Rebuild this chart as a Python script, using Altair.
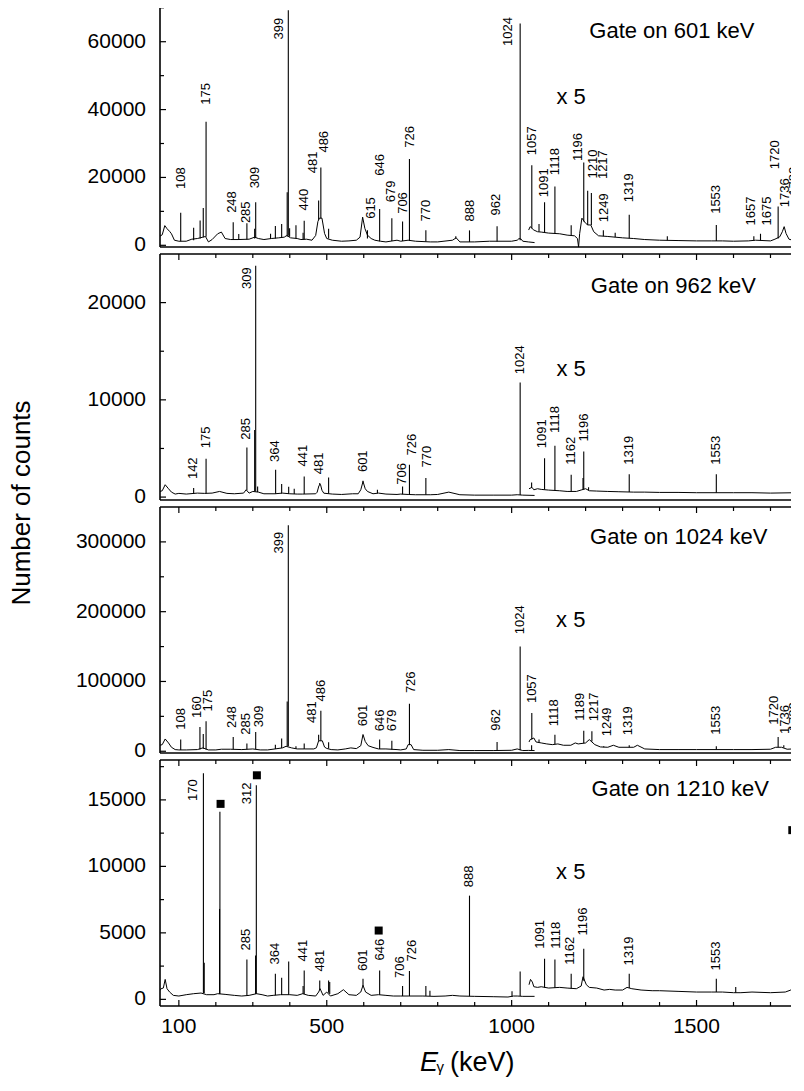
import altair as alt
import pandas as pd

# ---------------- shared ----------------
X_DOMAIN = [49, 1769]
X_LABELS = [100, 500, 1000, 1500]
X_TICKS_MAJOR = [100, 500, 1000, 1500]
X_TICKS_MINOR = [200, 300, 400, 600, 700, 800, 900, 1100, 1200, 1300, 1400, 1600, 1700]
W, H = 636, 246
FONT = "Liberation Sans"

# ---------------- panel 1 : gate on 601 keV ----------------
P1_LOW_E = [49, 55, 62, 68, 75, 80, 88, 100, 120, 135, 150, 165, 172, 180, 190, 205, 215, 225, 240, 260, 290, 305, 315, 330, 350, 370, 385, 392, 402, 420, 430, 445, 460, 470, 476, 480, 487, 494, 500, 515, 540, 560, 580, 590, 597, 603, 610, 620, 630, 645, 660, 690, 700, 720, 740, 780, 800, 840, 850, 860, 900, 940, 1000, 1015, 1020, 1026, 1030, 1045, 1062]
P1_LOW_C = [2700, 3100, 5800, 4900, 4100, 3400, 1500, 1200, 1200, 1800, 2000, 2400, 2600, 1000, 1700, 3400, 3900, 2000, 1700, 1700, 1800, 2400, 2000, 1700, 2000, 2200, 2400, 2900, 2200, 2000, 1700, 1800, 1500, 2900, 7000, 8000, 8000, 3500, 2000, 1500, 1200, 1300, 1500, 2400, 8300, 5000, 3000, 2000, 1500, 1200, 1000, 1500, 1200, 1500, 1200, 1000, 1000, 1500, 2200, 1000, 1000, 1200, 1200, 1500, 2000, 1800, 1200, 1000, 800]
P1_X5_E = [1046, 1050, 1060, 1070, 1080, 1100, 1130, 1150, 1170, 1178, 1181, 1184, 1190, 1200, 1206, 1214, 1222, 1235, 1260, 1280, 1300, 1330, 1360, 1400, 1450, 1500, 1540, 1570, 1600, 1640, 1660, 1700, 1712, 1725, 1732, 1737, 1742, 1750, 1760, 1769]
P1_X5_C = [4500, 5500, 4500, 4000, 3900, 3600, 3400, 3000, 2800, 2000, -500, 3500, 8000, 6500, 6000, 6000, 4000, 2800, 2600, 2400, 2200, 2000, 1700, 1500, 1400, 1300, 1300, 1300, 1200, 1300, 1500, 1300, 1800, 2500, 4000, 5500, 3500, 1800, 1500, 2000]
P1_PK_E = [105, 140, 157.5, 166, 173.6, 247, 262, 284, 305, 307.8, 348, 361, 378, 393, 396, 399.5, 416.7, 436, 439, 478, 484, 505, 610, 643, 676, 705, 723.6, 768, 849, 886, 960.6, 1023,
           1054.5, 1074, 1089, 1117, 1161, 1195, 1205.6, 1215.6, 1248, 1280, 1318, 1421, 1553.5, 1655, 1673, 1720.7]
P1_PK_TOP = [9600, 5200, 7300, 11000, 36400, 6800, 3300, 6500, 4900, 12700, 3400, 5700, 6300, 15600, 69300, 5000, 5900, 3700, 7200, 13200, 22900, 4900, 4400, 10700, 8000, 7000, 25400, 4400, 2700, 4400, 5600, 65400,
             23600, 6300, 12700, 17300, 5900, 24400, 16100, 15400, 4400, 3700, 9000, 2700, 6000, 2700, 3400, 11400]
P1_PK_BASE = [1200, 1500, 2000, 2400, 2500, 1700, 1700, 1700, 2000, 2200, 1900, 2000, 2200, 2600, 2800, 2500, 2000, 1700, 1700, 7500, 8000, 2000, 2000, 1200, 1300, 1300, 1300, 1100, 2000, 1000, 1100, 1500,
              5000, 4000, 3800, 3400, 2900, 7000, 6000, 6000, 2700, 2400, 2100, 1500, 1300, 1400, 1400, 2000]
P1_LAB = ["108", "175", "248", "285", "309", "399", "440", "481", "486", "615", "646", "679", "706", "726", "770", "888", "962", "1024", "1057", "1091", "1118", "1196", "1210", "1217", "1249", "1319", "1553", "1657", "1675", "1720", "1736", "1782"]
P1_LAB_E = [106.5, 173.6, 244, 282.6, 305, 370, 439, 461.5, 492.6, 620.7, 644.8, 674, 705, 725, 768, 888, 958, 989, 1056, 1087, 1117, 1180, 1219, 1248, 1251, 1318, 1553, 1646.6, 1689.6, 1712, 1740, 1764]
P1_LAB_Y = [16600, 41460, 9560, 6540, 16780, 60680, 10240, 21270, 27320, 7800, 20490, 12680, 9270, 28780, 7020, 7020, 8780, 58730, 26540, 14150, 20680, 24880, 19710, 19510, 6830, 12680, 9270, 5850, 5850, 22440, 11220, 14630]
P1_Y_DOMAIN = [-500, 72000]
P1_Y_MAJOR = [0, 20000, 40000, 60000]
P1_Y_MINOR = [10000, 30000, 50000, 70000]

# ---------------- panel 2 : gate on 962 keV ----------------
P2_LOW_E = [49, 55, 63, 72, 80, 90, 100, 120, 150, 170, 190, 210, 230, 250, 275, 282, 290, 300, 315, 330, 360, 380, 400, 420, 435, 470, 474, 479, 483, 487, 492, 515, 540, 570, 585, 592, 598, 604, 610, 625, 640, 660, 690, 700, 720, 740, 780, 800, 830, 860, 900, 950, 1000, 1015, 1030, 1062]
P2_LOW_C = [580, 650, 1270, 860, 510, 310, 380, 310, 410, 380, 410, 580, 380, 340, 410, 750, 410, 580, 510, 340, 340, 410, 340, 310, 310, 340, 500, 1200, 1300, 700, 400, 310, 270, 340, 340, 750, 1600, 860, 580, 340, 410, 310, 270, 310, 270, 240, 240, 270, 510, 240, 200, 200, 200, 240, 200, 170]
P2_X5_E = [1047, 1055, 1060, 1070, 1080, 1100, 1130, 1150, 1175, 1190, 1200, 1210, 1230, 1260, 1290, 1330, 1360, 1400, 1450, 1500, 1600, 1650, 1700, 1769]
P2_X5_C = [860, 1000, 750, 860, 790, 720, 650, 580, 580, 750, 860, 650, 620, 580, 550, 510, 510, 480, 480, 450, 450, 450, 410, 450]
P2_PK_E = [140, 173.6, 284, 305, 307.8, 313, 361.7, 378, 397, 412, 439, 481, 505, 598, 637, 705, 723.6, 768, 1023,
           1054, 1089, 1117, 1161, 1193, 1195, 1208, 1318, 1553.5]
P2_PK_TOP = [930, 3940, 5100, 6900, 23800, 1100, 2800, 1340, 1060, 860, 2120, 1440, 2020, 1680, 750, 1100, 3320, 1950, 11780,
             1500, 4000, 5270, 2290, 1950, 4690, 1000, 2360, 2360]
P2_PK_BASE = [340, 380, 700, 580, 580, 530, 340, 370, 340, 320, 310, 1250, 380, 1500, 400, 300, 270, 240, 220,
              950, 790, 680, 580, 750, 800, 700, 520, 450]
P2_LAB = ["142", "175", "285", "309", "364", "441", "481", "601", "706", "726", "770", "1024", "1091", "1118", "1162", "1196", "1319", "1553"]
P2_LAB_E = [139.5, 172.6, 282.6, 285, 361, 437, 479, 598, 703, 730, 770, 1022, 1081, 1117, 1161, 1195, 1318, 1553]
P2_LAB_Y = [1850, 5030, 5890, 21400, 3600, 3150, 2360, 2570, 1270, 4280, 3050, 12640, 5030, 6580, 3320, 5720, 3320, 3320]
P2_Y_DOMAIN = [-300, 25000]
P2_Y_MAJOR = [0, 10000, 20000]
P2_Y_MINOR = [5000, 15000]

# ---------------- panel 3 : gate on 1024 keV ----------------
P3_LOW_E = [49, 55, 63, 72, 80, 90, 100, 120, 150, 165, 180, 200, 215, 240, 270, 300, 320, 340, 360, 380, 390, 405, 420, 440, 465, 472, 478, 488, 494, 500, 512, 530, 550, 565, 580, 592, 598, 604, 612, 625, 640, 660, 690, 700, 715, 720, 728, 735, 760, 800, 830, 860, 900, 950, 1000, 1015, 1030, 1045, 1062]
P3_LOW_C = [8600, 9500, 17600, 11900, 5700, 2400, 1900, 1900, 2400, 4800, 1900, 1900, 2900, 2900, 2400, 3300, 1900, 1900, 3300, 4800, 7100, 4800, 3300, 3300, 3300, 5000, 15000, 15000, 6000, 4000, 2400, 1900, 3300, 4800, 3800, 8000, 24000, 14000, 8000, 5500, 3300, 3300, 2400, 1900, 3300, 9500, 9500, 2400, 1400, 1400, 2400, 1000, 1000, 1000, 1400, 3300, 1000, 1200, 1000]
P3_X5_E = [1047, 1050, 1060, 1066, 1080, 1095, 1110, 1125, 1140, 1160, 1172, 1180, 1200, 1210, 1225, 1240, 1260, 1275, 1290, 1330, 1340, 1360, 1400, 1450, 1500, 1600, 1650, 1700, 1714, 1730, 1745, 1760, 1769]
P3_X5_C = [13300, 16700, 19000, 13300, 11900, 10500, 9500, 10500, 8600, 8600, 11900, 10500, 11900, 16700, 9500, 6200, 5700, 8600, 5700, 5700, 8600, 3300, 2400, 2400, 2400, 2400, 2400, 2900, 5700, 5700, 2900, 3300, 4800]
P3_PK_E = [105, 157, 166, 173.6, 247, 284, 307.8, 361, 378, 393, 396, 416.7, 439, 478, 484, 505, 643, 676, 723.6, 960.6, 1023, 1054,
           1054.5, 1074, 1117, 1195, 1217, 1249, 1318, 1553.5, 1720.7, 1736]
P3_PK_TOP = [16700, 34800, 24800, 42900, 20500, 11000, 27600, 9500, 18100, 71400, 323800, 7100, 11000, 23800, 58100, 12900, 16700, 15200, 68100, 13300, 150000, 8600,
             54800, 16700, 23800, 29500, 28600, 7100, 8600, 7100, 20500, 8600]
P3_PK_BASE = [1900, 2400, 3500, 2400, 2900, 2700, 3300, 3300, 4800, 7100, 7100, 3600, 3300, 15000, 15000, 4000, 3300, 2400, 9500, 1000, 1400, 1100,
              17000, 12500, 10000, 11500, 14000, 5800, 5700, 2400, 5700, 5000]
P3_LAB = ["108", "160", "175", "248", "285", "309", "399", "481", "486", "601", "646", "679", "726", "962", "1024", "1057", "1118", "1189", "1217", "1249", "1319", "1553", "1720", "1736", "1782"]
P3_LAB_E = [106.5, 148, 180, 245, 281, 318, 370, 459.6, 484, 598, 645, 676, 727, 958, 1022, 1056, 1114, 1184, 1224, 1258, 1315, 1553, 1709, 1738, 1764]
P3_LAB_Y = [30950, 47600, 57140, 33300, 23800, 34300, 283300, 40500, 71400, 35700, 28600, 28600, 83300, 29500, 167600, 69000, 35700, 43800, 42900, 21400, 22900, 23800, 38100, 24800, 28600]
P3_Y_DOMAIN = [-2500, 350000]
P3_Y_MAJOR = [0, 100000, 200000, 300000]
P3_Y_MINOR = [50000, 150000, 250000]

# ---------------- panel 4 : gate on 1210 keV ----------------
P4_LOW_E = [49, 52, 58, 63, 68, 75, 85, 100, 120, 140, 160, 175, 195, 205, 225, 250, 270, 290, 310, 325, 340, 355, 375, 400, 420, 435, 450, 470, 478, 482, 490, 500, 510, 530, 545, 560, 580, 592, 598, 605, 620, 640, 660, 680, 700, 720, 760, 790, 820, 840, 860, 900, 950, 990, 1005, 1015, 1030, 1062]
P4_LOW_C = [675, 800, 850, 1500, 800, 550, 300, 250, 350, 425, 475, 350, 350, 425, 375, 300, 250, 300, 425, 350, 250, 300, 350, 350, 300, 425, 300, 250, 550, 800, 300, 550, 250, 425, 725, 350, 300, 550, 1050, 550, 300, 350, 300, 250, 250, 250, 250, 225, 250, 300, 250, 225, 200, 175, 250, 250, 225, 225]
P4_X5_E = [1047, 1051, 1056, 1060, 1070, 1080, 1100, 1130, 1150, 1175, 1188, 1193, 1202, 1210, 1230, 1250, 1265, 1280, 1300, 1312, 1325, 1350, 1380, 1400, 1450, 1500, 1540, 1570, 1600, 1620, 1650, 1700, 1740, 1755, 1762, 1769]
P4_X5_C = [1100, 1500, 1300, 950, 900, 950, 850, 900, 850, 800, 1000, 1700, 1100, 900, 850, 700, 750, 700, 700, 900, 800, 700, 650, 650, 600, 550, 550, 550, 500, 500, 550, 500, 550, 700, 900, 550]
P4_PK_E = [166.4, 168.6, 210, 211, 284, 307.5, 309.5, 361, 378, 397, 436, 439, 481, 505, 508, 598, 643, 705, 723.6, 768, 779, 886, 1001, 1023,
           1089, 1117, 1161, 1195, 1318, 1553.5, 1606, 1765, 1767]
P4_PK_TOP = [17000, 2750, 6800, 14100, 3000, 3300, 16100, 1925, 1625, 2850, 1000, 2175, 1425, 1425, 1300, 1550, 2175, 1000, 2125, 1000, 650, 7800, 600, 2100,
             3050, 3000, 1925, 3800, 1925, 1550, 925, 12050, 7400]
P4_PK_BASE = [450, 450, 400, 400, 300, 400, 400, 300, 320, 350, 400, 400, 700, 500, 400, 1000, 350, 250, 250, 250, 250, 240, 200, 250,
              900, 880, 820, 1400, 850, 550, 500, 800, 700]
P4_LAB = ["170", "285", "312", "364", "441", "481", "601", "646", "706", "726", "888", "1091", "1118", "1162", "1196", "1319", "1553"]
P4_LAB_E = [137.6, 282.6, 285, 358.7, 437, 482, 598, 645, 698, 730, 886, 1076, 1119, 1159, 1193, 1318, 1553]
P4_LAB_Y = [14925, 3675, 14675, 2625, 2850, 2100, 2125, 2925, 1600, 2850, 8425, 3800, 3800, 2600, 4800, 2550, 2175]
P4_SQ_E = [212.8, 311, 640.4, 1759]
P4_SQ_C = [14700, 16850, 5175, 12725]
P4_Y_DOMAIN = [-500, 18000]
P4_Y_MAJOR = [0, 5000, 10000, 15000]
P4_Y_MINOR = [2500, 7500, 12500, 17500]

GATES = ["Gate on 601 keV", "Gate on 962 keV", "Gate on 1024 keV", "Gate on 1210 keV"]
GATE_E = [1210, 1214, 1212, 1216]
GATE_Y = [61000, 20960, 297600, 15300]
X5_E = [1121, 1121, 1120, 1120]
X5_Y = [41760, 12500, 178600, 9050]

ONE = pd.DataFrame({"k": [0]})


def panel(i, low_e, low_c, hi_e, hi_c, pk_e, pk_t, pk_b, lab_t, lab_e, lab_y,
          ydom, ymaj, ymin, bottom=False):
    xs = alt.Scale(domain=X_DOMAIN, nice=False, zero=False)
    ys = alt.Scale(domain=ydom, nice=False, zero=False)

    def X(f):
        return alt.X(f, scale=xs, axis=None)

    def Y(f):
        return alt.Y(f, scale=ys, axis=None)

    spec = pd.DataFrame({
        "E": list(low_e) + list(hi_e),
        "C": list(low_c) + list(hi_c),
        "seg": ["low"] * len(low_e) + ["x5"] * len(hi_e),
    })

    line = alt.Chart(spec).mark_line(color="black", strokeWidth=1, clip=True).encode(
        x=X("E:Q"), y=Y("C:Q"), detail="seg:N")

    frame_l = alt.Chart(ONE).mark_rule(color="black", strokeWidth=1.6).encode(
        x=alt.value(0), y=alt.value(0), y2=alt.value(H))
    frame_t = alt.Chart(ONE).mark_rule(color="black", strokeWidth=1.6).encode(
        x=alt.value(0), x2=alt.value(W), y=alt.value(0))
    frame_b = alt.Chart(ONE).mark_rule(color="black", strokeWidth=1.6).encode(
        x=alt.value(0), x2=alt.value(W), y=alt.value(H))

    yt_maj = alt.Chart(pd.DataFrame({"v": ymaj})).mark_rule(color="black", strokeWidth=1.2).encode(
        y=Y("v:Q"), x=alt.value(0), x2=alt.value(6))
    yt_min = alt.Chart(pd.DataFrame({"v": ymin})).mark_rule(color="black", strokeWidth=1.2).encode(
        y=Y("v:Q"), x=alt.value(0), x2=alt.value(4))
    y_lab = alt.Chart(pd.DataFrame({"v": ymaj, "s": [str(v) for v in ymaj]})).mark_text(
        align="right", baseline="middle", fontSize=21, font=FONT, color="black").encode(
        y=Y("v:Q"), x=alt.value(-14), text="s:N")
    xt_maj = alt.Chart(pd.DataFrame({"v": X_TICKS_MAJOR})).mark_rule(color="black", strokeWidth=1.2).encode(
        x=X("v:Q"), y=alt.value(0), y2=alt.value(6))
    xt_min = alt.Chart(pd.DataFrame({"v": X_TICKS_MINOR})).mark_rule(color="black", strokeWidth=1.2).encode(
        x=X("v:Q"), y=alt.value(0), y2=alt.value(4))

    peaks = alt.Chart(pd.DataFrame({"E": pk_e, "t": pk_t, "b": pk_b})).mark_rule(
        color="black", strokeWidth=1.1, clip=True).encode(
        x=X("E:Q"), y=Y("b:Q"), y2="t:Q")
    labels = alt.Chart(pd.DataFrame({"E": lab_e, "Y": lab_y, "t": lab_t})).mark_text(
        angle=270, align="left", baseline="middle", fontSize=13, font=FONT,
        color="black", clip=True).encode(
        x=X("E:Q"), y=Y("Y:Q"), text="t:N")
    notes = alt.Chart(pd.DataFrame({"E": [GATE_E[i], X5_E[i]], "Y": [GATE_Y[i], X5_Y[i]],
                                    "t": [GATES[i], "x 5"]})).mark_text(
        align="left", baseline="alphabetic", fontSize=22, font=FONT, color="black").encode(
        x=X("E:Q"), y=Y("Y:Q"), text="t:N")

    layers = [line, frame_l, frame_t, frame_b, yt_maj, yt_min, y_lab, xt_maj, xt_min, peaks, labels, notes]

    if bottom:
        layers.append(alt.Chart(pd.DataFrame({"v": X_TICKS_MAJOR})).mark_rule(color="black", strokeWidth=1.2).encode(
            x=X("v:Q"), y=alt.value(H), y2=alt.value(H - 6)))
        layers.append(alt.Chart(pd.DataFrame({"v": X_TICKS_MINOR})).mark_rule(color="black", strokeWidth=1.2).encode(
            x=X("v:Q"), y=alt.value(H), y2=alt.value(H - 4)))
        layers.append(alt.Chart(pd.DataFrame({"v": X_LABELS, "s": [str(v) for v in X_LABELS]})).mark_text(
            align="center", baseline="top", fontSize=21, font=FONT, color="black").encode(
            x=X("v:Q"), y=alt.value(H + 10), text="s:N"))
        layers.append(alt.Chart(pd.DataFrame({"E": P4_SQ_E, "C": P4_SQ_C})).mark_square(
            size=64, color="black", opacity=1, clip=True).encode(
            x=X("E:Q"), y=Y("C:Q")))
        # x-axis title  E_gamma (keV)
        layers.append(alt.Chart(pd.DataFrame({"E": [752]})).mark_text(
            text="E", fontSize=27, font=FONT, fontStyle="italic", align="left",
            baseline="alphabetic", color="black").encode(
            x=X("E:Q"), y=alt.value(H + 65)))
        layers.append(alt.Chart(pd.DataFrame({"E": [797]})).mark_text(
            text="γ", fontSize=15, font=FONT, align="left",
            baseline="alphabetic", color="black").encode(
            x=X("E:Q"), y=alt.value(H + 66)))
        layers.append(alt.Chart(pd.DataFrame({"E": [833]})).mark_text(
            text="(keV)", fontSize=27, font=FONT, align="left",
            baseline="alphabetic", color="black").encode(
            x=X("E:Q"), y=alt.value(H + 65)))
    if i == 1:
        layers.append(alt.Chart(ONE).mark_text(
            text="Number of counts", angle=270, fontSize=26, font=FONT, align="center",
            baseline="middle", color="black").encode(
            x=alt.value(-138), y=alt.value(H + 3)))

    return alt.layer(*layers).properties(width=W, height=H)


p1 = panel(0, P1_LOW_E, P1_LOW_C, P1_X5_E, P1_X5_C, P1_PK_E, P1_PK_TOP, P1_PK_BASE,
           P1_LAB, P1_LAB_E, P1_LAB_Y, P1_Y_DOMAIN, P1_Y_MAJOR, P1_Y_MINOR)
p2 = panel(1, P2_LOW_E, P2_LOW_C, P2_X5_E, P2_X5_C, P2_PK_E, P2_PK_TOP, P2_PK_BASE,
           P2_LAB, P2_LAB_E, P2_LAB_Y, P2_Y_DOMAIN, P2_Y_MAJOR, P2_Y_MINOR)
p3 = panel(2, P3_LOW_E, P3_LOW_C, P3_X5_E, P3_X5_C, P3_PK_E, P3_PK_TOP, P3_PK_BASE,
           P3_LAB, P3_LAB_E, P3_LAB_Y, P3_Y_DOMAIN, P3_Y_MAJOR, P3_Y_MINOR)
p4 = panel(3, P4_LOW_E, P4_LOW_C, P4_X5_E, P4_X5_C, P4_PK_E, P4_PK_TOP, P4_PK_BASE,
           P4_LAB, P4_LAB_E, P4_LAB_Y, P4_Y_DOMAIN, P4_Y_MAJOR, P4_Y_MINOR, bottom=True)

chart = alt.vconcat(p1, p2, p3, p4, spacing=7, bounds="flush").properties(
    padding={"left": 1, "top": -8, "right": -6, "bottom": 3}).configure_view(stroke=None)

chart.save("out.html", embed_options={"renderer": "svg", "actions": False})
